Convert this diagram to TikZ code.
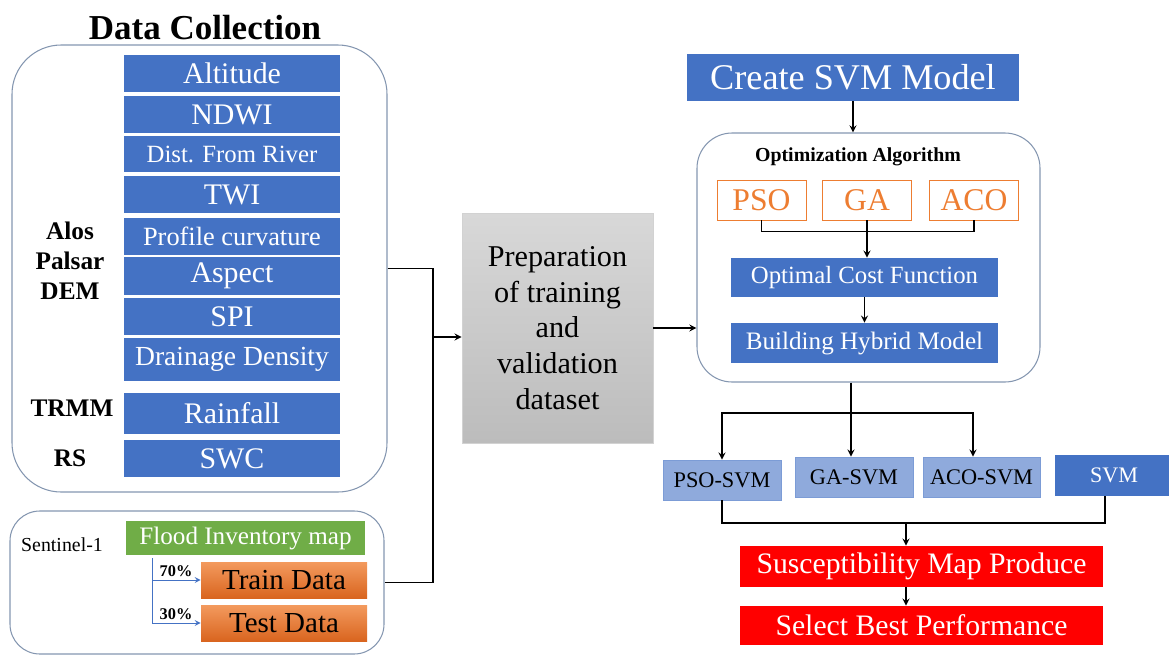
\documentclass[tikz,border=0pt]{standalone}
\usepackage{fontspec}
\setmainfont{Liberation Serif}
\usepackage{tikz}
\usepackage{xcolor}

\definecolor{mblue}{HTML}{4472C4}
\definecolor{lblue}{HTML}{8FAADC}
\definecolor{mgreen}{HTML}{70AD47}
\definecolor{morange}{HTML}{ED7D31}
\definecolor{otop}{HTML}{F39A5E}
\definecolor{obot}{HTML}{D9651F}
\definecolor{gtop}{HTML}{D8D8D8}
\definecolor{gbot}{HTML}{BCBCBC}
\definecolor{mred}{HTML}{FF0000}
\definecolor{pline}{HTML}{8496B0}

\newcommand{\fsz}[1]{\fontsize{#1}{#1}\selectfont}

\begin{document}
\begin{tikzpicture}[
		panel/.style={draw=pline, line width=0.6pt, inner sep=0pt},
		bluebox/.style={fill=mblue, text=white, inner sep=0pt},
		src/.style={font=\bfseries\fsz{14.4}},
		pct/.style={font=\bfseries\fsz{9.3}},
		algo/.style={draw=morange, text=morange, line width=0.5pt, minimum width=1.78cm, minimum height=0.8cm, font=\fsz{18}},
		hyb/.style={fill=lblue, draw=lblue!75!mblue, line width=0.5pt, minimum width=2.36cm, minimum height=0.8cm, font=\fsz{12.7}},
		splitbox/.style={top color=otop, bottom color=obot, minimum width=3.32cm, minimum height=0.72cm, font=\fsz{16.5}},
		redbox/.style={fill=mred, text=white, minimum width=7.26cm, minimum height=0.8cm, font=\fsz{16.9}},
		ln/.style={line width=0.8pt},
		arr/.style={-stealth, line width=0.8pt}]
	\useasboundingbox (0,0) rectangle (23.38,-13.1);

	% data collection
	\node[font=\bfseries\fsz{19.9}] (title) at (4.1,-0.56) {Data Collection};
	\node[panel, rounded corners=28pt, minimum width=7.5cm, minimum height=8.94cm] (dc) at (3.99,-5.37) {};
	\foreach \n/\y/\h/\s/\t in {alt/-1.47/0.74/17/Altitude, ndwi/-2.29/0.74/17/NDWI, dist/-3.08/0.72/14.1/Dist. From River, twi/-3.89/0.74/17/TWI, prof/-4.73/0.74/15/Profile curvature, asp/-5.52/0.76/17/Aspect, spi/-6.33/0.74/17/SPI, dd/-7.19/0.86/15.7/Drainage Density, rain/-8.27/0.82/17/Rainfall, swc/-9.17/0.74/17/SWC}{
		\node[bluebox, minimum width=4.32cm, minimum height=\h cm, font=\fsz{\s}] (\n) at (4.64,\y) {\t};
	}
	\node[src, align=center, font=\bfseries\fontsize{14.4}{17}\selectfont] (alos) at (1.4,-5.22) {Alos\\Palsar\\DEM};
	\node[src] (trmm) at (1.44,-8.16) {TRMM};
	\node[src] (rs) at (1.4,-9.16) {RS};

	% flood inventory
	\node[panel, rounded corners=17pt, minimum width=7.48cm, minimum height=2.86cm] (fi) at (3.94,-11.65) {};
	\node[font=\fsz{11.3}] (sent) at (1.24,-10.9) {Sentinel-1};
	\node[fill=mgreen, text=white, minimum width=4.78cm, minimum height=0.68cm, font=\fsz{14.3}] (flood) at (4.91,-10.76) {Flood Inventory map};
	\node[splitbox] (train) at (5.68,-11.6) {Train Data};
	\node[splitbox] (test) at (5.68,-12.46) {Test Data};
	\coordinate (fl) at (3.04,-11.16);
	\draw[mblue, -stealth, line width=0.5pt] (fl) |- (test.west);
	\draw[mblue, -stealth, line width=0.5pt] (fl |- train.west) -- (train.west);
	\node[pct] (p70) at (3.52,-11.42) {70\%};
	\node[pct] (p30) at (3.52,-12.28) {30\%};

	% preparation
	\node[top color=gtop, bottom color=gbot, draw=gray!35, minimum width=3.82cm, minimum height=4.6cm, align=center, font=\fontsize{17.2}{20.4}\selectfont] (prep) at (11.15,-6.56) {Preparation\\of training\\and\\validation\\dataset};
	\coordinate (jn) at (8.66,-6.74);
	\draw[ln] (dc.east) -| (jn) |- (fi.east);
	\draw[arr] (jn) -- (jn -| prep.west);

	% optimization
	\node[bluebox, minimum width=6.64cm, minimum height=0.94cm, font=\fsz{20.6}] (svmm) at (17.06,-1.55) {Create SVM Model};
	\node[panel, rounded corners=20pt, minimum width=6.86cm, minimum height=4.98cm] (opt) at (17.37,-5.15) {};
	\draw[arr] (svmm.south) -- (svmm.south |- opt.north);
	\draw[arr] (prep.east) -- (prep.east -| opt.west);
	\node[font=\bfseries\fsz{11.3}] (oa) at (17.16,-3.14) {Optimization Algorithm};
	\node[algo] (pso) at (15.23,-4.0) {PSO};
	\node[algo] (ga) at (17.34,-4.0) {GA};
	\node[algo] (aco) at (19.48,-4.0) {ACO};
	\node[bluebox, minimum width=5.34cm, minimum height=0.78cm, font=\fsz{14.1}] (ocf) at (17.29,-5.55) {Optimal Cost Function};
	\node[bluebox, minimum width=5.34cm, minimum height=0.8cm, font=\fsz{14.3}] (bhm) at (17.29,-6.86) {Building Hybrid Model};
	\draw[ln] (pso.south) -- ++(0,-0.22) -| (aco.south);
	\draw[arr] (ga.south) -- (ga.south |- ocf.north);
	\draw[arr] (ocf.south) -- (bhm.north);

	% hybrid models
	\node[hyb] (psosvm) at (14.44,-9.6) {PSO-SVM};
	\node[hyb] (gasvm) at (17.08,-9.54) {GA-SVM};
	\node[hyb, minimum width=2.34cm] (acosvm) at (19.63,-9.54) {ACO-SVM};
	\node[bluebox, minimum width=2.36cm, minimum height=0.82cm, font=\fsz{12.6}] (svm) at (22.28,-9.51) {SVM};
	\coordinate (sp) at (17.02,-8.26);
	\draw[arr] (opt.south -| sp) -- (sp |- gasvm.north);
	\draw[arr] (sp) -| (psosvm.north);
	\draw[arr] (sp) -| ([xshift=-0.17cm]acosvm.north);

	% results
	\node[redbox, minimum height=0.82cm] (smp) at (18.43,-11.33) {Susceptibility Map Produce};
	\node[redbox, minimum height=0.78cm] (sbp) at (18.43,-12.51) {Select Best Performance};
	\coordinate (mg) at (18.12,-10.46);
	\draw[ln] (psosvm.south) |- (mg) -| ([xshift=-0.18cm]svm.south);
	\draw[arr] (mg) -- (mg |- smp.north);
	\draw[arr] (smp.south -| mg) -- (sbp.north -| mg);
\end{tikzpicture}
\end{document}
